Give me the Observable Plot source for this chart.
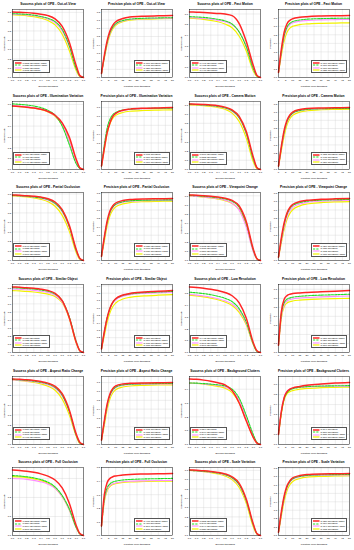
<!DOCTYPE html>
<html><head><meta charset="utf-8">
<script src="https://cdn.jsdelivr.net/npm/d3@7"></script>
<script src="https://cdn.jsdelivr.net/npm/@observablehq/plot@0.6"></script>
<style>
body{margin:0;background:#fff;}
#wrap{position:relative;width:354px;height:550px;overflow:hidden;font-family:"Liberation Sans",Arial,sans-serif;}
.cell{position:absolute;width:88.5px;height:91.67px;}
.cell svg.plot{position:absolute;left:0;top:0;}
.title{position:absolute;left:8px;width:80px;top:2px;text-align:center;font-weight:bold;font-size:3.3px;white-space:nowrap;line-height:4.4px;color:#000}
.legend{position:absolute;background:#fff;border:0.3px solid #555;padding:0.6px 1.2px 0.6px 0.8px;font-size:2.2px;line-height:2.55px;white-space:nowrap;color:#000}
.legend .row{display:flex;align-items:center;height:2.55px}
.legend svg{margin-right:0.9px;flex:none}
</style>
</head><body><div id="wrap"></div>
<script>
// ---------- data ----------
const successX = [0,0.1,0.2,0.3,0.4,0.5,0.6,0.7,0.8,0.9,0.95,1];
const precisionX = [0,2,4,6,8,10,15,20,30,40,50];
const successTicks = [0,0.1,0.2,0.3,0.4,0.5,0.6,0.7,0.8,0.9,1];
const precisionTicks = [0,5,10,15,20,25,30,35,40,45,50];
const attributes = ["Out-of-View","Fast Motion","Illumination Variation","Camera Motion","Partial Occlusion","Viewpoint Change","Similar Object","Low Resolution","Aspect Ratio Change","Background Clutters","Full Occlusion","Scale Variation"];

// rank order in every panel: red, green (dashed), pink, yellow
const ovS = [[0.705,0.70,0.697,0.69,0.68,0.665,0.63,0.55,0.38,0.12,0.02,0],[0.685,0.683,0.678,0.67,0.656,0.636,0.60,0.515,0.34,0.09,0.015,0],[0.68,0.677,0.672,0.664,0.65,0.628,0.59,0.50,0.33,0.09,0.015,0],[0.675,0.67,0.664,0.655,0.638,0.612,0.565,0.465,0.29,0.07,0.01,0]];
const ovSLeg = ["[0.553] OpenSTR+CSRL","[0.535] OpenSiam+CSRL","[0.531] OpenSTR","[0.512] OpenSiam"];
const ovP = [[0.05,0.27,0.45,0.57,0.64,0.68,0.72,0.737,0.748,0.752,0.755],[0.05,0.25,0.43,0.55,0.615,0.655,0.695,0.712,0.723,0.727,0.73],[0.05,0.245,0.42,0.54,0.61,0.65,0.69,0.707,0.718,0.722,0.725],[0.05,0.235,0.40,0.52,0.595,0.638,0.682,0.70,0.712,0.717,0.72]];
const ovPLeg = ["[0.767] OpenSTR+CSRL","[0.742] OpenSTR","[0.738] OpenSiam","[0.731] OpenSiam+CSRL"];

const fmS = [[0.62,0.617,0.614,0.61,0.605,0.60,0.585,0.51,0.34,0.11,0.02,0],[0.575,0.572,0.568,0.56,0.55,0.535,0.505,0.43,0.29,0.08,0.015,0],[0.565,0.562,0.558,0.55,0.54,0.527,0.50,0.43,0.29,0.08,0.015,0],[0.56,0.556,0.55,0.54,0.527,0.505,0.47,0.39,0.25,0.06,0.01,0]];
const fmSLeg = ["[0.498] OpenSTR+CSRL","[0.463] OpenSTR","[0.459] OpenSiam+CSRL","[0.440] OpenSiam"];
const fmP = [[0.06,0.33,0.53,0.63,0.67,0.688,0.705,0.713,0.72,0.723,0.725],[0.06,0.30,0.49,0.59,0.635,0.655,0.674,0.683,0.69,0.693,0.695],[0.06,0.29,0.47,0.575,0.62,0.64,0.66,0.668,0.675,0.678,0.68],[0.06,0.26,0.43,0.53,0.578,0.60,0.62,0.628,0.635,0.638,0.64]];
const fmPLeg = ["[0.716] OpenSTR+CSRL","[0.686] OpenSTR","[0.671] OpenSiam","[0.632] OpenSiam+CSRL"];

const ivS = [[0.585,0.58,0.575,0.567,0.555,0.535,0.50,0.43,0.30,0.09,0.015,0],[0.605,0.60,0.595,0.585,0.57,0.545,0.50,0.40,0.23,0.05,0.01,0],[0.59,0.585,0.58,0.57,0.557,0.535,0.495,0.415,0.26,0.06,0.01,0],[0.585,0.58,0.575,0.566,0.553,0.53,0.49,0.41,0.27,0.07,0.01,0]];
const ivSLeg = ["[0.459] OpenSTR+CSRL","[0.457] OpenSTR","[0.452] OpenSiam","[0.449] OpenSiam+CSRL"];
const ivP = [[0.04,0.24,0.42,0.53,0.60,0.635,0.67,0.683,0.693,0.697,0.70],[0.04,0.28,0.47,0.57,0.62,0.645,0.672,0.682,0.69,0.693,0.695],[0.04,0.26,0.44,0.55,0.605,0.635,0.666,0.679,0.688,0.692,0.695],[0.04,0.23,0.41,0.52,0.58,0.612,0.645,0.659,0.668,0.672,0.675]];
const ivPLeg = ["[0.692] OpenSTR","[0.687] OpenSTR+CSRL","[0.684] OpenSiam","[0.666] OpenSiam+CSRL"];

const cmS = [[0.71,0.707,0.703,0.698,0.69,0.675,0.645,0.575,0.41,0.13,0.02,0],[0.705,0.702,0.698,0.692,0.683,0.667,0.635,0.56,0.39,0.11,0.02,0],[0.703,0.70,0.696,0.69,0.68,0.663,0.63,0.555,0.385,0.11,0.02,0],[0.70,0.696,0.69,0.683,0.672,0.652,0.61,0.52,0.34,0.08,0.01,0]];
const cmSLeg = ["[0.560] OpenSTR+CSRL","[0.553] OpenSTR","[0.550] OpenSiam+CSRL","[0.537] OpenSiam"];
const cmP = [[0.04,0.28,0.48,0.60,0.665,0.70,0.732,0.744,0.751,0.754,0.755],[0.04,0.27,0.46,0.585,0.65,0.687,0.72,0.733,0.741,0.744,0.745],[0.04,0.26,0.45,0.578,0.645,0.683,0.718,0.731,0.74,0.744,0.745],[0.04,0.23,0.41,0.545,0.62,0.66,0.70,0.717,0.729,0.733,0.735]];
const cmPLeg = ["[0.753] OpenSTR+CSRL","[0.742] OpenSTR","[0.740] OpenSiam+CSRL","[0.727] OpenSiam"];

const poS = [[0.69,0.686,0.682,0.676,0.667,0.65,0.615,0.535,0.37,0.11,0.02,0],[0.685,0.681,0.676,0.669,0.658,0.64,0.60,0.52,0.355,0.10,0.02,0],[0.683,0.679,0.674,0.666,0.654,0.634,0.595,0.51,0.345,0.10,0.015,0],[0.68,0.675,0.668,0.658,0.643,0.618,0.57,0.475,0.31,0.08,0.01,0]];
const poSLeg = ["[0.540] OpenSTR+CSRL","[0.533] OpenSTR","[0.530] OpenSiam+CSRL","[0.517] OpenSiam"];
const poP = [[0.05,0.28,0.47,0.59,0.65,0.683,0.712,0.724,0.731,0.733,0.735],[0.05,0.27,0.455,0.575,0.635,0.667,0.697,0.709,0.716,0.719,0.72],[0.05,0.26,0.445,0.567,0.628,0.661,0.691,0.704,0.711,0.714,0.715],[0.05,0.23,0.41,0.535,0.60,0.637,0.672,0.688,0.699,0.703,0.705]];
const poPLeg = ["[0.730] OpenSTR+CSRL","[0.716] OpenSTR","[0.711] OpenSiam+CSRL","[0.700] OpenSiam"];

const vcS = [[0.71,0.705,0.70,0.694,0.686,0.674,0.65,0.59,0.42,0.12,0.02,0],[0.705,0.70,0.695,0.688,0.679,0.666,0.64,0.575,0.40,0.11,0.02,0],[0.70,0.694,0.688,0.68,0.669,0.652,0.62,0.545,0.36,0.09,0.015,0],[0.70,0.693,0.686,0.677,0.665,0.648,0.618,0.55,0.38,0.10,0.015,0]];
const vcSLeg = ["[0.573] OpenSTR+CSRL","[0.565] OpenSTR","[0.556] OpenSiam","[0.552] OpenSiam+CSRL"];
const vcP = [[0.04,0.27,0.45,0.565,0.63,0.665,0.70,0.715,0.727,0.732,0.735],[0.04,0.25,0.43,0.55,0.615,0.652,0.688,0.704,0.717,0.722,0.725],[0.04,0.23,0.40,0.52,0.59,0.63,0.671,0.69,0.705,0.711,0.715],[0.04,0.21,0.37,0.49,0.56,0.603,0.649,0.671,0.688,0.696,0.70]];
const vcPLeg = ["[0.726] OpenSTR+CSRL","[0.715] OpenSTR","[0.703] OpenSiam","[0.688] OpenSiam+CSRL"];

const soS = [[0.81,0.805,0.80,0.792,0.782,0.765,0.73,0.64,0.43,0.12,0.02,0],[0.80,0.796,0.79,0.783,0.772,0.755,0.72,0.64,0.44,0.13,0.02,0],[0.785,0.78,0.775,0.767,0.756,0.74,0.705,0.625,0.43,0.12,0.02,0],[0.765,0.76,0.755,0.747,0.736,0.72,0.69,0.615,0.42,0.11,0.02,0]];
const soSLeg = ["[0.636] OpenSTR","[0.633] OpenSTR+CSRL","[0.620] OpenSiam+CSRL","[0.607] OpenSiam"];
const soP = [[0.05,0.28,0.47,0.60,0.68,0.725,0.775,0.797,0.815,0.825,0.835],[0.05,0.28,0.47,0.60,0.678,0.722,0.77,0.79,0.808,0.817,0.825],[0.05,0.27,0.46,0.59,0.668,0.712,0.76,0.781,0.798,0.807,0.815],[0.05,0.23,0.41,0.54,0.62,0.668,0.722,0.745,0.763,0.773,0.78]];
const soPLeg = ["[0.810] OpenSTR","[0.806] OpenSTR+CSRL","[0.795] OpenSiam+CSRL","[0.762] OpenSiam"];

const lrS = [[0.555,0.55,0.543,0.535,0.524,0.508,0.48,0.42,0.29,0.08,0.015,0],[0.51,0.505,0.498,0.489,0.476,0.458,0.43,0.37,0.255,0.07,0.01,0],[0.49,0.485,0.478,0.468,0.455,0.437,0.41,0.355,0.245,0.07,0.01,0],[0.485,0.479,0.471,0.46,0.446,0.427,0.398,0.34,0.235,0.065,0.01,0]];
const lrSLeg = ["[0.443] OpenSTR+CSRL","[0.412] OpenSiam+CSRL","[0.398] OpenSTR","[0.390] OpenSiam"];
const lrP = [[0.08,0.45,0.59,0.63,0.645,0.652,0.66,0.665,0.672,0.678,0.685],[0.08,0.42,0.55,0.59,0.604,0.612,0.622,0.628,0.635,0.64,0.645],[0.08,0.40,0.53,0.57,0.585,0.593,0.603,0.609,0.616,0.621,0.625],[0.08,0.38,0.51,0.548,0.562,0.57,0.58,0.586,0.592,0.596,0.60]];
const lrPLeg = ["[0.658] OpenSTR+CSRL","[0.620] OpenSTR","[0.601] OpenSiam+CSRL","[0.576] OpenSiam"];

const arS = [[0.665,0.66,0.655,0.648,0.638,0.622,0.59,0.515,0.35,0.10,0.02,0],[0.66,0.655,0.65,0.642,0.631,0.613,0.578,0.50,0.335,0.09,0.015,0],[0.655,0.65,0.644,0.636,0.624,0.605,0.57,0.49,0.33,0.09,0.015,0],[0.655,0.648,0.64,0.629,0.614,0.59,0.55,0.46,0.30,0.08,0.01,0]];
const arSLeg = ["[0.520] OpenSTR+CSRL","[0.513] OpenSTR","[0.508] OpenSiam+CSRL","[0.495] OpenSiam"];
const arP = [[0.05,0.27,0.46,0.575,0.635,0.663,0.685,0.692,0.697,0.699,0.70],[0.05,0.26,0.445,0.56,0.62,0.65,0.674,0.682,0.687,0.689,0.69],[0.05,0.25,0.435,0.55,0.612,0.643,0.668,0.677,0.682,0.684,0.685],[0.05,0.22,0.40,0.52,0.585,0.62,0.65,0.662,0.669,0.673,0.675]];
const arPLeg = ["[0.693] OpenSTR+CSRL","[0.683] OpenSTR","[0.678] OpenSiam+CSRL","[0.667] OpenSiam"];

const bcS = [[0.475,0.472,0.466,0.458,0.447,0.432,0.39,0.30,0.17,0.05,0.01,0],[0.445,0.444,0.441,0.437,0.432,0.424,0.40,0.335,0.21,0.07,0.015,0],[0.445,0.443,0.439,0.434,0.427,0.416,0.39,0.32,0.195,0.06,0.01,0],[0.445,0.442,0.437,0.43,0.421,0.408,0.375,0.30,0.175,0.05,0.01,0]];
const bcSLeg = ["[0.354] OpenSTR","[0.349] OpenSiam+CSRL","[0.344] OpenSiam","[0.337] OpenSTR+CSRL"];
const bcP = [[0.10,0.33,0.47,0.53,0.555,0.567,0.582,0.593,0.606,0.615,0.62],[0.10,0.32,0.46,0.52,0.545,0.558,0.573,0.58,0.586,0.588,0.59],[0.10,0.34,0.48,0.535,0.555,0.563,0.572,0.577,0.582,0.584,0.585],[0.10,0.31,0.45,0.51,0.53,0.54,0.554,0.562,0.569,0.572,0.575]];
const bcPLeg = ["[0.594] OpenSTR","[0.580] OpenSiam","[0.575] OpenSiam+CSRL","[0.566] OpenSTR+CSRL"];

const foS = [[0.345,0.342,0.338,0.332,0.324,0.312,0.292,0.25,0.17,0.05,0.01,0],[0.315,0.313,0.309,0.303,0.294,0.28,0.255,0.21,0.14,0.04,0.008,0],[0.30,0.298,0.295,0.29,0.282,0.27,0.248,0.205,0.135,0.04,0.008,0],[0.31,0.308,0.304,0.298,0.289,0.275,0.25,0.205,0.135,0.04,0.008,0]];
const foSLeg = ["[0.253] OpenSTR+CSRL","[0.229] OpenSTR","[0.219] OpenSiam+CSRL","[0.217] OpenSiam"];
const foP = [[0.07,0.30,0.39,0.42,0.432,0.438,0.445,0.449,0.452,0.454,0.455],[0.07,0.27,0.35,0.38,0.393,0.40,0.408,0.412,0.416,0.418,0.42],[0.07,0.26,0.34,0.368,0.38,0.387,0.395,0.399,0.402,0.404,0.405],[0.07,0.25,0.33,0.362,0.375,0.382,0.39,0.394,0.397,0.399,0.40]];
const foPLeg = ["[0.448] OpenSTR+CSRL","[0.411] OpenSTR","[0.397] OpenSiam+CSRL","[0.392] OpenSiam"];

const svS = [[0.705,0.70,0.695,0.688,0.678,0.662,0.63,0.56,0.39,0.12,0.02,0],[0.70,0.695,0.69,0.683,0.672,0.655,0.62,0.545,0.375,0.11,0.02,0],[0.70,0.694,0.688,0.68,0.669,0.651,0.615,0.54,0.37,0.11,0.02,0],[0.70,0.693,0.686,0.676,0.662,0.64,0.60,0.515,0.345,0.09,0.015,0]];
const svSLeg = ["[0.553] OpenSTR+CSRL","[0.546] OpenSTR","[0.544] OpenSiam+CSRL","[0.530] OpenSiam"];
const svP = [[0.04,0.28,0.47,0.59,0.65,0.685,0.712,0.724,0.731,0.733,0.735],[0.04,0.265,0.455,0.575,0.638,0.673,0.702,0.714,0.721,0.723,0.725],[0.04,0.255,0.445,0.567,0.63,0.666,0.697,0.709,0.716,0.718,0.72],[0.04,0.23,0.41,0.535,0.603,0.642,0.677,0.693,0.703,0.707,0.71]];
const svPLeg = ["[0.730] OpenSTR+CSRL","[0.719] OpenSTR","[0.714] OpenSiam+CSRL","[0.703] OpenSiam"];

const successSets = [ovS,fmS,ivS,cmS,poS,vcS,soS,lrS,arS,bcS,foS,svS];
const successLegends = [ovSLeg,fmSLeg,ivSLeg,cmSLeg,poSLeg,vcSLeg,soSLeg,lrSLeg,arSLeg,bcSLeg,foSLeg,svSLeg];
const precisionSets = [ovP,fmP,ivP,cmP,poP,vcP,soP,lrP,arP,bcP,foP,svP];
const precisionLegends = [ovPLeg,fmPLeg,ivPLeg,cmPLeg,poPLeg,vcPLeg,soPLeg,lrPLeg,arPLeg,bcPLeg,foPLeg,svPLeg];

// ---------- styles ----------
const lineStyles = [
  {stroke:"#ff2626", strokeWidth:1.5, dash:null},
  {stroke:"#22dd22", strokeWidth:1.1, dash:"2.2,1.1"},
  {stroke:"#ff8cff", strokeWidth:1.1, dash:null},
  {stroke:"#f2f200", strokeWidth:1.2, dash:null}
];

const W = 88.5, H = 91.67;
const wrap = document.getElementById("wrap");

function makePanel(kind, idx, col, row) {
  const isS = kind === "s";
  const sets = isS ? successSets[idx] : precisionSets[idx];
  const legend = isS ? successLegends[idx] : precisionLegends[idx];
  const xs = isS ? successX : precisionX;
  const rows = [];
  sets.forEach((vals, k) => vals.forEach((v, i) => rows.push({x: xs[i], y: v, k})));
  const maxV = d3.max(rows, d => d.y);
  const yMax = isS ? maxV / 0.965 : maxV / 0.91;
  const yTicks = d3.range(0, yMax + 1e-9, 0.1).map(v => Math.round(v * 10) / 10);
  const xTicks = isS ? successTicks : precisionTicks;

  const marks = [
    Plot.gridX(xTicks, {stroke:"#cfcfcf", strokeOpacity:1, strokeWidth:0.35}),
    Plot.gridY(yTicks, {stroke:"#cfcfcf", strokeOpacity:1, strokeWidth:0.35}),
    Plot.axisX({ticks:xTicks, tickSize:0, tickPadding:1.3, tickFormat: isS ? d3.format(".1f") : d3.format("d"),
      label: isS ? "Overlap threshold" : "Location error threshold", labelAnchor:"center", labelArrow:"none", labelOffset:9.5}),
    Plot.axisY({ticks:yTicks, tickSize:0, tickPadding:1.3, tickFormat: d3.format(".1f"),
      label: isS ? "Success rate" : "Precision", labelAnchor:"center", labelArrow:"none", labelOffset:9})
  ];
  for (let k = 3; k >= 0; k--) {
    const s = lineStyles[k];
    marks.push(Plot.line(rows.filter(d => d.k === k), {x:"x", y:"y", curve:"monotone-x",
      stroke:s.stroke, strokeWidth:s.strokeWidth, strokeDasharray:s.dash || undefined}));
  }
  marks.push(Plot.frame({stroke:"#000", strokeWidth:0.45}));

  const svg = Plot.plot({
    width: 88, height: 91,
    marginLeft: 12, marginRight: 5, marginTop: 9, marginBottom: 14,
    style: {fontSize:"2.5px", fontFamily:"'Liberation Sans', Arial, sans-serif", background:"transparent", color:"#000"},
    x: {domain: isS ? [0,1] : [0,50]},
    y: {domain: [0, yMax]},
    marks
  });
  svg.classList.add("plot");

  const cell = document.createElement("div");
  cell.className = "cell";
  cell.style.left = (col * W) + "px";
  cell.style.top = (row * H) + "px";
  cell.appendChild(svg);

  const t = document.createElement("div");
  t.className = "title";
  t.textContent = (isS ? "Success plots of OPE - " : "Precision plots of OPE - ") + attributes[idx];
  cell.appendChild(t);

  const lg = document.createElement("div");
  lg.className = "legend";
  lg.style.bottom = "18.3px";
  if (isS) lg.style.left = "13.4px"; else lg.style.right = "6.6px";
  legend.forEach((label, k) => {
    const s = lineStyles[k];
    const r = document.createElement("div");
    r.className = "row";
    r.innerHTML = `<svg width="6.5" height="2" viewBox="0 0 6.5 2"><line x1="0" y1="1" x2="6.5" y2="1" stroke="${s.stroke}" stroke-width="${s.strokeWidth}" ${s.dash ? `stroke-dasharray="${s.dash}"` : ""}/></svg><span>${label}</span>`;
    lg.appendChild(r);
  });
  cell.appendChild(lg);
  wrap.appendChild(cell);
}

for (let r = 0; r < 6; r++) {
  const a = 2 * r, b = 2 * r + 1;
  makePanel("s", a, 0, r);
  makePanel("p", a, 1, r);
  makePanel("s", b, 2, r);
  makePanel("p", b, 3, r);
}
</script>
</body></html>
